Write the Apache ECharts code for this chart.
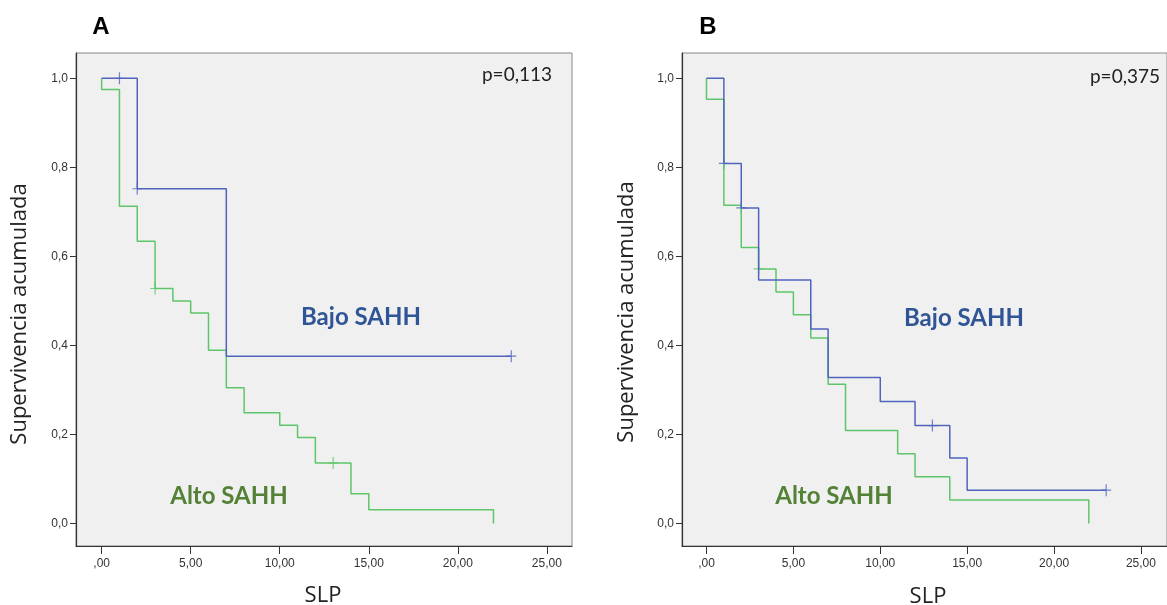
<!DOCTYPE html>
<html>
<head>
<meta charset="utf-8">
<title>SLP - Bajo / Alto SAHH</title>
<script src="https://cdn.jsdelivr.net/npm/echarts@6/dist/echarts.min.js"></script>
<style>
  html, body { margin: 0; padding: 0; background: #fff; }
  #main { width: 1167px; height: 605px; }
</style>
</head>
<body>
<div id="main"></div>
<script>
// panel A, Bajo SAHH (blue)
const timeA_bajo = [0, 2, 7, 23]
const survA_bajo = [1, 0.752, 0.376, 0.376]
const censTimeA_bajo = [1, 2, 23]
const censSurvA_bajo = [1, 0.752, 0.376]

// panel A, Alto SAHH (green)
const timeA_alto = [0, 0, 1, 2, 3, 4, 5, 6, 7, 8, 10, 11, 12, 14, 15, 22]
const survA_alto = [1, 0.975, 0.713, 0.634, 0.528, 0.5, 0.473, 0.389, 0.305, 0.249, 0.221, 0.193, 0.136, 0.067, 0.031, 0]
const censTimeA_alto = [3, 13]
const censSurvA_alto = [0.528, 0.136]

// panel B, Bajo SAHH
const timeB_bajo = [0, 1, 2, 3, 6, 7, 10, 12, 14, 15, 23]
const survB_bajo = [1, 0.809, 0.709, 0.547, 0.437, 0.328, 0.274, 0.22, 0.147, 0.075, 0.075]
const censTimeB_bajo = [1, 2, 13, 23]
const censSurvB_bajo = [0.809, 0.709, 0.22, 0.075]

// panel B, Alto SAHH
const timeB_alto = [0, 0, 1, 2, 3, 4, 5, 6, 7, 8, 11, 12, 14, 22]
const survB_alto = [1, 0.953, 0.715, 0.62, 0.572, 0.52, 0.469, 0.417, 0.313, 0.209, 0.157, 0.105, 0.053, 0]
const censTimeB_alto = [3]
const censSurvB_alto = [0.572]

const xTicks = [0, 5, 10, 15, 20, 25]
const yTicks = [0, 0.2, 0.4, 0.6, 0.8, 1]
const pValues = ['p=0,113', 'p=0,375']

const BLUE = '#5164bd'
const GREEN = '#5ec66a'
const PLUS = 'path://M4.4,0h1.2v12h-1.2zM0,5.4h10v1.2h-10z'

const zip = (xs, ys) => xs.map((x, i) => [x, ys[i]])

const xLabel = v => v === 0 ? ',00' : v.toFixed(2).replace('.', ',')
const yLabel = v => v.toFixed(1).replace('.', ',')

function makeGrid(left) {
    return {
        left: left, top: 53, width: 496, height: 493,
        show: true, backgroundColor: '#f0f0f0',
        borderColor: '#888', borderWidth: 1
    }
}

function makeX(gridIndex, min, max) {
    return {
        type: 'value', gridIndex, min, max,
        axisLine: { show: true, onZero: false, lineStyle: { color: '#333', width: 1.2 } },
        axisTick: { show: true, length: 8, customValues: xTicks, lineStyle: { color: '#333' } },
        axisLabel: {
            customValues: xTicks, formatter: xLabel, margin: 12,
            color: '#333', fontSize: 12, fontFamily: 'Liberation Sans'
        },
        splitLine: { show: false }
    }
}

function makeY(gridIndex) {
    return {
        type: 'value', gridIndex, min: -0.0505, max: 1.057,
        axisLine: { show: true, onZero: false, lineStyle: { color: '#333', width: 1.2 } },
        axisTick: { show: true, length: 6, customValues: yTicks, lineStyle: { color: '#333' } },
        axisLabel: {
            customValues: yTicks, formatter: yLabel, margin: 8,
            color: '#333', fontSize: 12, fontFamily: 'Liberation Sans'
        },
        splitLine: { show: false }
    }
}

function curve(idx, times, surv, color) {
    return {
        type: 'line', xAxisIndex: idx, yAxisIndex: idx,
        step: 'end', symbol: 'none', silent: true,
        lineStyle: { color, width: 1.5 },
        data: zip(times, surv)
    }
}

function censors(idx, times, surv, color) {
    return {
        type: 'scatter', xAxisIndex: idx, yAxisIndex: idx,
        symbol: PLUS, symbolSize: [10, 12], silent: true,
        itemStyle: { color },
        data: zip(times, surv)
    }
}

function txt(x, y, text, size, color, bold, rotation, family) {
    return {
        type: 'text', x, y, rotation: rotation || 0,
        style: {
            text, fill: color, align: 'center', verticalAlign: 'middle',
            font: (bold ? 'bold ' : '') + size + 'px ' + (family || 'Lato')
        }
    }
}

const chart = echarts.init(document.getElementById('main'), null, { renderer: 'canvas' })

chart.setOption({
    animation: false,
    backgroundColor: '#fff',
    grid: [makeGrid(76), makeGrid(682)],
    xAxis: [makeX(0, -1.44, 26.41), makeX(1, -1.41, 26.5)],
    yAxis: [makeY(0), makeY(1)],
    series: [
        curve(0, timeA_alto, survA_alto, GREEN),
        curve(0, timeA_bajo, survA_bajo, BLUE),
        censors(0, censTimeA_alto, censSurvA_alto, GREEN),
        censors(0, censTimeA_bajo, censSurvA_bajo, BLUE),
        curve(1, timeB_alto, survB_alto, GREEN),
        curve(1, timeB_bajo, survB_bajo, BLUE),
        censors(1, censTimeB_alto, censSurvB_alto, GREEN),
        censors(1, censTimeB_bajo, censSurvB_bajo, BLUE)
    ],
    graphic: [
        txt(101, 27, 'A', 24, '#000', true, 0, 'Liberation Sans'),
        txt(708, 27, 'B', 24, '#000', true, 0, 'Liberation Sans'),
        txt(517, 75, pValues[0], 19, '#222'),
        txt(1125, 77, pValues[1], 19, '#222'),
        // axis titles
        txt(20, 314, 'Supervivencia acumulada', 22, '#222', false, Math.PI / 2, 'Open Sans'),
        txt(627, 312, 'Supervivencia acumulada', 22, '#222', false, Math.PI / 2, 'Open Sans'),
        txt(323, 596, 'SLP', 22, '#222', false, 0, 'Open Sans'),
        txt(928, 597, 'SLP', 22, '#222', false, 0, 'Open Sans'),
        // group labels
        txt(361, 317, 'Bajo SAHH', 24, '#2f5597', true),
        txt(964, 318, 'Bajo SAHH', 24, '#2f5597', true),
        txt(229, 496, 'Alto SAHH', 24, '#538135', true),
        txt(834, 496, 'Alto SAHH', 24, '#538135', true)
    ]
})
</script>
</body>
</html>
